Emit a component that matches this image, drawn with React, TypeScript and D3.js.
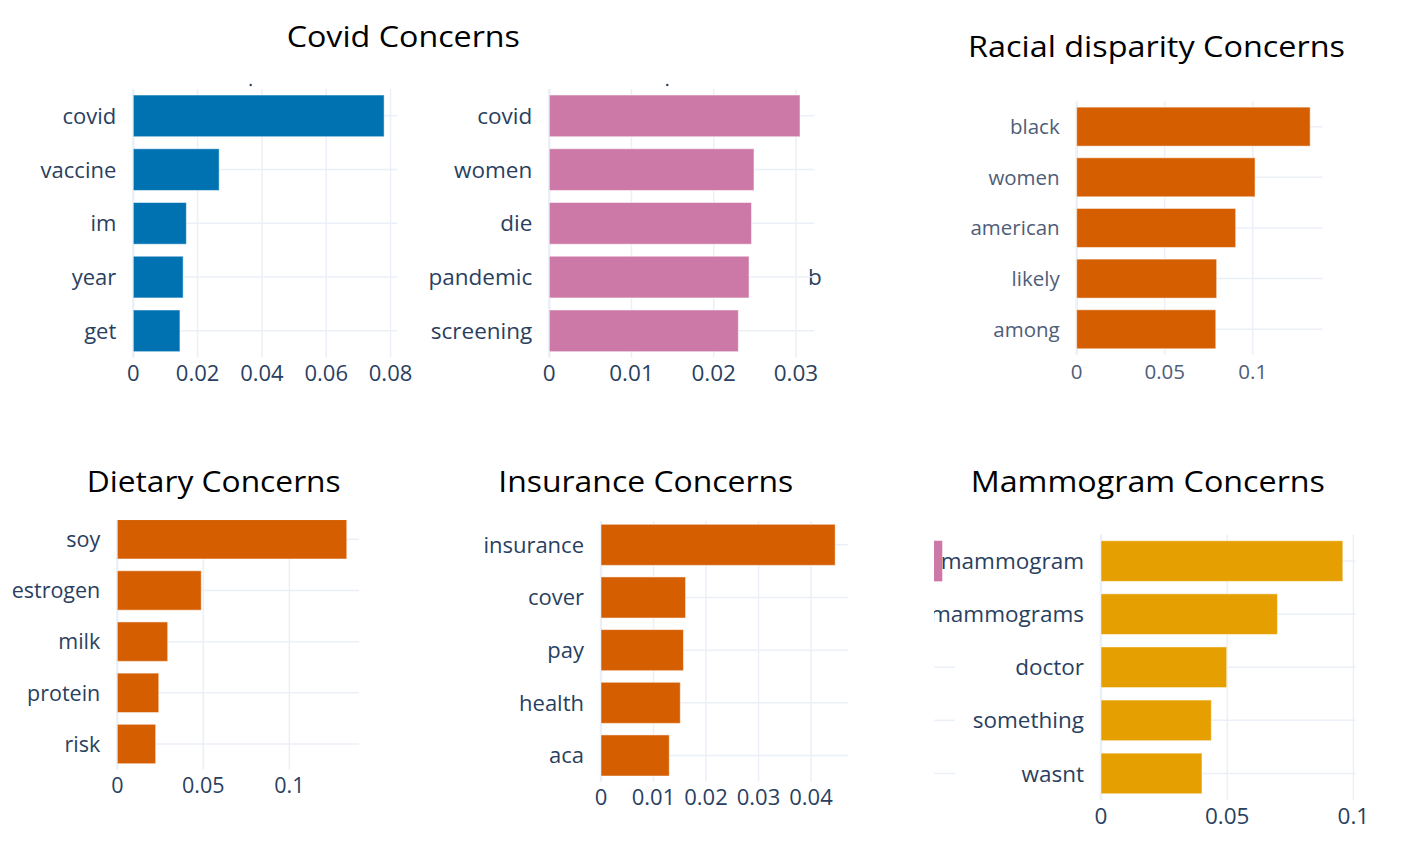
import React from 'react';
import * as d3 from 'd3';

// word scores
const covidWords = ['covid', 'vaccine', 'im', 'year', 'get'];
const covidScores = [0.078, 0.0267, 0.0165, 0.0155, 0.0145];
const covidTicks = [0, 0.02, 0.04, 0.06, 0.08];

const covid2Words = ['covid', 'women', 'die', 'pandemic', 'screening'];
const covid2Scores = [0.0305, 0.0249, 0.0246, 0.0243, 0.023];
const covid2Ticks = [0, 0.01, 0.02, 0.03];

const racialWords = ['black', 'women', 'american', 'likely', 'among'];
const racialScores = [0.1326, 0.1013, 0.0903, 0.0795, 0.079];
const racialTicks = [0, 0.05, 0.1];

const dietWords = ['soy', 'estrogen', 'milk', 'protein', 'risk'];
const dietScores = [0.1334, 0.0488, 0.0293, 0.0241, 0.0223];
const dietTicks = [0, 0.05, 0.1];

const insuranceWords = ['insurance', 'cover', 'pay', 'health', 'aca'];
const insuranceScores = [0.0446, 0.0161, 0.0157, 0.0151, 0.013];
const insuranceTicks = [0, 0.01, 0.02, 0.03, 0.04];

const mammoWords = ['mammogram', 'mammograms', 'doctor', 'something', 'wasnt'];
const mammoScores = [0.0958, 0.0699, 0.0498, 0.0437, 0.04];
const mammoTicks = [0, 0.05, 0.1];

const titles = [
  { text: 'Covid Concerns', x: 286.7, y: 46.7, w: 233.3 },
  { text: 'Racial disparity Concerns', x: 968, y: 56.7, w: 377 },
  { text: 'Dietary Concerns', x: 86.7, y: 491.7, w: 254 },
  { text: 'Insurance Concerns', x: 498.3, y: 492.3, w: 295 },
  { text: 'Mammogram Concerns', x: 970.7, y: 491.7, w: 354.3 },
];

const GRID = '#EBF0F8';
const FONT = '"Open Sans", "Noto Sans", sans-serif';

type PanelCfg = {
  id: string;
  words: string[];
  scores: number[];
  ticks: number[];
  color: string;
  x0: number;
  x1: number;
  max: number;
  yTop: number;
  yBot: number;
  pad: number;
  tickY: number;
  font: number;
  text?: string;
  clipTop?: number;
  clipLeft?: number;
};

const panels: PanelCfg[] = [
  { id: 'p1', words: covidWords, scores: covidScores, ticks: covidTicks, color: '#0072B2',
    x0: 133.3, x1: 397.3, max: 0.0821, yTop: 89, yBot: 357.7, pad: 0.224, tickY: 373.3, font: 22 },
  { id: 'p2', words: covid2Words, scores: covid2Scores, ticks: covid2Ticks, color: '#CC79A7',
    x0: 549.3, x1: 814.3, max: 0.03224, yTop: 89, yBot: 357.7, pad: 0.224, tickY: 373.3, font: 22.5 },
  { id: 'p3', words: racialWords, scores: racialScores, ticks: racialTicks, color: '#D55E00',
    x0: 1076.7, x1: 1322.3, max: 0.1395, yTop: 101.3, yBot: 354.6, pad: 0.23, tickY: 371.7, font: 20.5,
    text: '#4f5d78' },
  { id: 'p4', words: dietWords, scores: dietScores, ticks: dietTicks, color: '#D55E00',
    x0: 117.3, x1: 359, max: 0.1405, yTop: 513.7, yBot: 769.6, pad: 0.23, tickY: 785, font: 21.5,
    clipTop: 520 },
  { id: 'p5', words: insuranceWords, scores: insuranceScores, ticks: insuranceTicks, color: '#D55E00',
    x0: 601, x1: 848.3, max: 0.0471, yTop: 518.5, yBot: 781.8, pad: 0.22, tickY: 796.7, font: 22,
    clipTop: 521 },
  { id: 'p6', words: mammoWords, scores: mammoScores, ticks: mammoTicks, color: '#E69F00',
    x0: 1101, x1: 1355.7, max: 0.1009, yTop: 534.5, yBot: 800, pad: 0.235, tickY: 816, font: 22.5,
    clipLeft: 934 },
];

const Panel = ({ cfg }: { cfg: PanelCfg }) => {
  const x = d3.scaleLinear().domain([0, cfg.max]).range([cfg.x0, cfg.x1]);
  const y = d3
    .scaleBand()
    .domain(cfg.words)
    .range([cfg.yTop, cfg.yBot])
    .paddingInner(cfg.pad)
    .paddingOuter(cfg.pad / 2);
  const top = cfg.clipTop ?? cfg.yTop;
  const left = cfg.clipLeft ?? 0;
  const txt = cfg.text ?? '#2a3f5f';
  const mid = (w: string) => (y(w) as number) + y.bandwidth() / 2;

  return (
    <g clipPath={`url(#clip-${cfg.id})`}>
      <defs>
        <clipPath id={`clip-${cfg.id}`}>
          <rect x={left} y={top} width={1428} height={851} />
        </clipPath>
      </defs>
      {/* category grid */}
      {cfg.words.map(w => (
        <line key={'h' + w} x1={cfg.x0} x2={cfg.x1} y1={mid(w)} y2={mid(w)} stroke={GRID} strokeWidth={1.5} />
      ))}
      {/* value grid + zero line */}
      {cfg.ticks.map(t => (
        <line key={'v' + t} x1={x(t)} x2={x(t)} y1={top} y2={cfg.yBot}
          stroke={GRID} strokeWidth={t === 0 ? 2.5 : 1.5} />
      ))}
      {cfg.words.map((w, i) => (
        <rect key={'b' + w} x={x(0)} y={y(w)} width={x(cfg.scores[i]) - x(0)} height={y.bandwidth()}
          fill={cfg.color} stroke="#ffffff" strokeOpacity={0.5} strokeWidth={1} />
      ))}
      {cfg.words.map(w => (
        <text key={'l' + w} x={cfg.x0 - 17} y={mid(w)} dy="0.36em" textAnchor="end"
          fontFamily={FONT} fontSize={cfg.font} fill={txt}>{w}</text>
      ))}
      {cfg.ticks.map(t => (
        <text key={'t' + t} x={x(t)} y={cfg.tickY} dy="0.36em" textAnchor="middle"
          fontFamily={FONT} fontSize={cfg.font} fill={txt}>{String(t)}</text>
      ))}
    </g>
  );
};

export default function App() {
  const p2 = panels[1];
  const p6 = panels[5];
  const y2 = d3.scaleBand().domain(p2.words).range([p2.yTop, p2.yBot]).paddingInner(p2.pad).paddingOuter(p2.pad / 2);
  const y6 = d3.scaleBand().domain(p6.words).range([p6.yTop, p6.yBot]).paddingInner(p6.pad).paddingOuter(p6.pad / 2);

  return (
    <svg width={1428} height={851} style={{ position: 'absolute', left: 0, top: 0, background: '#fff' }}>
      <rect width={1428} height={851} fill="#fff" />
      {titles.map(t => (
        <text key={t.text} x={t.x} y={t.y} fontFamily={FONT} fontSize={30} fill="#000"
          textLength={t.w} lengthAdjust="spacingAndGlyphs">{t.text}</text>
      ))}
      {/* leftovers of cropped neighbour charts */}
      <circle cx={250.7} cy={85} r={1.2} fill="#2a3f5f" />
      <circle cx={667.3} cy={85} r={1.2} fill="#2a3f5f" />
      <text x={808} y={(y2('pandemic') as number) + y2.bandwidth() / 2} dy="0.36em"
        fontFamily={FONT} fontSize={22.5} fill="#2a3f5f">b</text>
      <rect x={934} y={y6(p6.words[0])} width={8.3} height={y6.bandwidth()} fill="#CC79A7" />
      {p6.words.slice(2).map(w => (
        <line key={w} x1={934} x2={955} y1={(y6(w) as number) + y6.bandwidth() / 2}
          y2={(y6(w) as number) + y6.bandwidth() / 2} stroke={GRID} strokeWidth={1.5} />
      ))}
      {panels.map(p => <Panel key={p.id} cfg={p} />)}
    </svg>
  );
}
